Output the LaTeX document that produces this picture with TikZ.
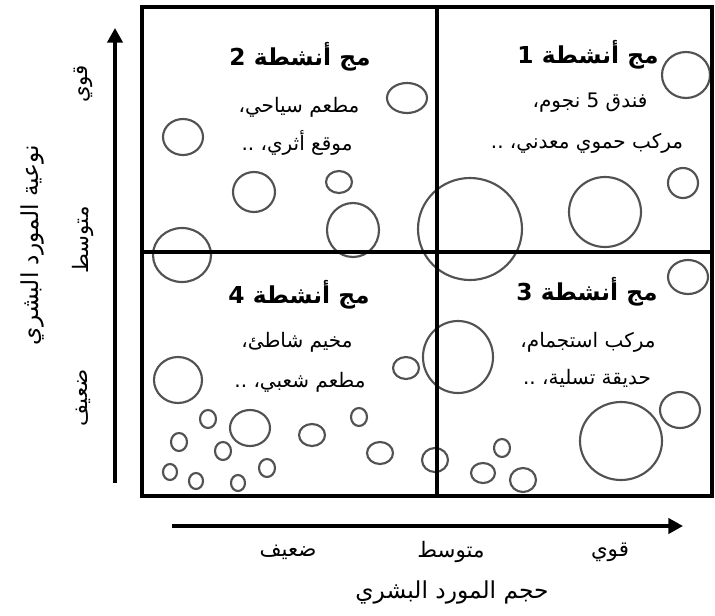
\documentclass[tikz,border=0pt]{standalone}
\usepackage{fontspec}
\usetikzlibrary{arrows.meta}
\TeXXeTstate=1
\newfontfamily\arabicfont[Script=Arabic]{DejaVu Sans}
\newcommand{\ar}[1]{{\arabicfont\beginR #1\endR}}
\begin{document}
\begin{tikzpicture}[x=0.75pt,y=-0.75pt,
  bub/.style={draw=black!68, line width=1.6pt},
  frame/.style={line width=3.4pt, line cap=rect},
  axis/.style={line width=2.4pt, -{Triangle[length=11pt,width=11.5pt]}},
  qtitle/.style={font=\fontsize{17.5}{20}\selectfont\bfseries, inner sep=0pt},
  qline/.style={font=\fontsize{15}{18}\selectfont, inner sep=0pt},
  tick/.style={font=\fontsize{16}{19}\selectfont, inner sep=0pt},
  axtitle/.style={font=\fontsize{17.5}{20}\selectfont, inner sep=0pt}]
\useasboundingbox (0,0) rectangle (715,615);
% bubbles
\foreach \cx/\cy/\rx/\ry in {
  183/137/20/18, 407/98/20/15, 339/182/13/11, 254/192/21/20, 353/230/26/27, 182/255/29/27,
  470/229/52/51, 686/75/24/23, 605/212/36/35, 683/183/15/15,
  688/277/20/17, 458/357/35/36, 680/410/20/18, 621/441/41/39, 502/448/8/9, 483/473/12/10, 523/480/13/12, 435/460/13/12,
  178/380/24/23, 208/419/8/9, 250/428/20/18, 179/442/8/9, 223/451/8/9, 312/435/13/11, 359/417/8/9, 380/453/13/11, 406/368/13/11,
  170/472/7/8, 196/481/7/8, 238/483/7/8, 267/468/8/9}
  \draw[bub] (\cx,\cy) ellipse [x radius=\rx, y radius=\ry];
% frame
\draw[frame] (142,7) rectangle (712,496);
\draw[frame] (437,7) -- (437,496);
\draw[frame] (142,252) -- (712,252);
% axes
\coordinate (vs) at (115,483);
\coordinate (ve) at (115,28);
\coordinate (hs) at (172,526);
\coordinate (he) at (683,526);
\draw[axis] (vs) -- (ve);
\draw[axis] (hs) -- (he);
% quadrant texts
\node[qtitle] (t2) at (300,57) {\ar{مج أنشطة 2}};
\node[qline] (t2a) at (299,107) {\ar{مطعم سياحي،}};
\node[qline] (t2b) at (297,143) {\ar{موقع أثري، ..}};
\node[qtitle] (t1) at (588,55) {\ar{مج أنشطة 1}};
\node[qline] (t1a) at (590,103) {\ar{فندق 5 نجوم،}};
\node[qline] (t1b) at (587,143) {\ar{مركب حموي معدني، ..}};
\node[qtitle] (t3) at (587,292) {\ar{مج أنشطة 3}};
\node[qline] (t3a) at (588,342) {\ar{مركب استجمام،}};
\node[qline] (t3b) at (587,378) {\ar{حديقة تسلية، ..}};
\node[qtitle] (t4) at (299,295) {\ar{مج أنشطة 4}};
\node[qline] (t4a) at (297,342) {\ar{مخيم شاطئ،}};
\node[qline] (t4b) at (300,382) {\ar{مطعم شعبي، ..}};
% axis labels
\node[tick, rotate=90] (vq) at (83,84) {\ar{قوي}};
\node[tick, rotate=90] (vm) at (83,240) {\ar{متوسط}};
\node[tick, rotate=90] (vd) at (83,398) {\ar{ضعيف}};
\node[axtitle, rotate=90] (vt) at (32,245) {\ar{نوعية المورد البشري}};
\node[tick] (hd) at (288,552) {\ar{ضعيف}};
\node[tick] (hm) at (451,552) {\ar{متوسط}};
\node[tick] (hq) at (610,552) {\ar{قوي}};
\node[axtitle] (ht) at (452,592) {\ar{حجم المورد البشري}};
\end{tikzpicture}
\end{document}
